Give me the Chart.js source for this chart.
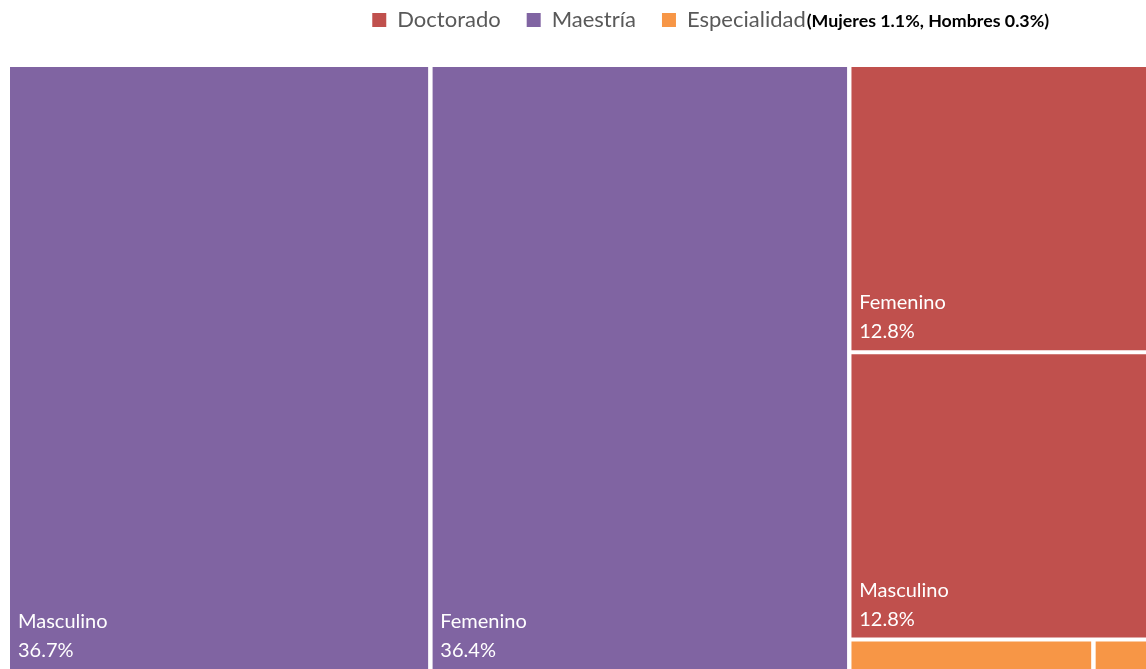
<!DOCTYPE html>
<html lang="es">
<head>
<meta charset="utf-8">
<title>Posgrado por nivel y sexo</title>
<script src="https://cdn.jsdelivr.net/npm/chart.js@4.4.1/dist/chart.umd.min.js"></script>
<style>
  html, body { margin: 0; padding: 0; overflow: hidden; background: #fff; }
  #wrap { width: 1168px; height: 671px; }
</style>
</head>
<body>
<div id="wrap"><canvas id="treemap"></canvas></div>
<script>
// Niveles en el orden de la leyenda y sus colores
let niveles = ['Doctorado', 'Maestría', 'Especialidad'];
let coloresNivel = ['#C0504D', '#8064A2', '#F79646'];

// Celdas del treemap: nivel, sexo y porcentaje
let celdaNivel = ['Maestría', 'Maestría', 'Doctorado', 'Doctorado', 'Especialidad', 'Especialidad'];
let celdaSexo = ['Masculino', 'Femenino', 'Femenino', 'Masculino', 'Mujeres', 'Hombres'];
let celdaValor = [36.7, 36.4, 12.8, 12.8, 1.1, 0.3];

// Nota que va pegada a la leyenda
let notaEspecialidad = '(Mujeres 1.1%, Hombres 0.3%)';

// Tamaño del rectángulo completo (unidades de los ejes) y hueco entre celdas
let anchoTotal = 1152, altoTotal = 606, hueco = 2;

// Peor relación de aspecto de una fila (algoritmo squarify)
function peorAspecto(fila, lado) {
  let suma = fila.reduce((a, b) => a + b, 0);
  let max = Math.max(...fila), min = Math.min(...fila);
  return Math.max((lado * lado * max) / (suma * suma), (suma * suma) / (lado * lado * min));
}

// Reparte valores dentro de un rectángulo
function squarify(valores, rect) {
  let total = valores.reduce((a, b) => a + b, 0);
  let areas = valores.map(v => v * rect.w * rect.h / total);
  let { x, y, w, h } = rect;
  let salida = [];
  let i = 0;
  while (i < areas.length) {
    let lado = Math.min(w, h);
    let fila = [areas[i]];
    let j = i + 1;
    while (j < areas.length && peorAspecto(fila.concat(areas[j]), lado) <= peorAspecto(fila, lado)) {
      fila.push(areas[j]);
      j++;
    }
    let grosor = fila.reduce((a, b) => a + b, 0) / lado;
    let desp = 0;
    fila.forEach(a => {
      let largo = a / grosor;
      if (w >= h) salida.push({ x: x, y: y + desp, w: grosor, h: largo });
      else salida.push({ x: x + desp, y: y, w: largo, h: grosor });
      desp += largo;
    });
    if (w >= h) { x += grosor; w -= grosor; } else { y += grosor; h -= grosor; }
    i = j;
  }
  return salida;
}

// Primero los niveles (de mayor a menor), luego las celdas dentro de cada nivel
let totales = niveles.map(n => celdaValor.reduce((s, v, k) => s + (celdaNivel[k] === n ? v : 0), 0));
let ordenNiveles = niveles.map((n, k) => k).sort((a, b) => totales[b] - totales[a]);
let rectNiveles = squarify(ordenNiveles.map(k => totales[k]), { x: 0, y: 0, w: anchoTotal, h: altoTotal });

let celdas = [];
ordenNiveles.forEach((k, pos) => {
  let indices = celdaNivel.map((n, c) => c).filter(c => celdaNivel[c] === niveles[k]);
  let rects = squarify(indices.map(c => celdaValor[c]), rectNiveles[pos]);
  indices.forEach((c, r) => {
    celdas.push({ ...rects[r], sexo: celdaSexo[c], valor: celdaValor[c], color: coloresNivel[k] });
  });
});

// Cada celda es una línea horizontal (borde superior) rellenada hasta su borde inferior
let datasets = celdas.map(c => ({
  label: c.sexo,
  data: [{ x: c.x + hueco, y: c.y + hueco }, { x: c.x + c.w - hueco, y: c.y + hueco }],
  fill: { value: c.y + c.h - hueco },
  backgroundColor: c.color,
  borderWidth: 0,
  pointRadius: 0,
  pointHoverRadius: 0,
  tension: 0
}));

// Más espacio entre la leyenda y el treemap, y leyenda un poco a la derecha
let ajusteLeyenda = {
  id: 'ajusteLeyenda',
  afterInit(chart) {
    let fitOriginal = chart.legend.fit;
    chart.legend.fit = function () {
      fitOriginal.call(this);
      this.height += 24;
    };
  },
  afterLayout(chart) {
    chart.legend.left += 5;
    chart.legend.right += 5;
  }
};

// Textos dentro de las celdas y la nota de la leyenda
let etiquetas = {
  id: 'etiquetas',
  afterDatasetsDraw(chart) {
    let { ctx, scales: { x, y } } = chart;
    ctx.save();
    ctx.font = '20px Lato';
    ctx.fillStyle = '#ffffff';
    ctx.textBaseline = 'alphabetic';
    celdas.forEach(c => {
      let izq = x.getPixelForValue(c.x + hueco);
      let arriba = y.getPixelForValue(c.y + hueco);
      let abajo = y.getPixelForValue(c.y + c.h - hueco);
      if (abajo - arriba < 60) return;
      ctx.fillText(c.sexo, izq + 8, abajo - 41);
      ctx.fillText(c.valor.toFixed(1) + '%', izq + 8, abajo - 12);
    });
    let hb = chart.legend.legendHitBoxes[niveles.length - 1];
    ctx.font = 'bold 17.8px Lato';
    ctx.fillStyle = '#000000';
    ctx.textBaseline = 'middle';
    ctx.fillText(notaEspecialidad, hb.left + hb.width + 1, hb.top + hb.height / 2 + 1);
    ctx.restore();
  }
};

let config = {
  type: 'line',
  data: { datasets: datasets },
  options: {
    responsive: true,
    maintainAspectRatio: false,
    animation: false,
    events: [],
    layout: { padding: { top: -17, left: 8, right: 8, bottom: 0 } },
    scales: {
      x: { type: 'linear', min: 0, max: anchoTotal, display: false },
      y: { type: 'linear', min: 0, max: altoTotal, reverse: true, display: false }
    },
    plugins: {
      tooltip: { enabled: false },
      legend: {
        position: 'top',
        align: 'center',
        onClick: () => {},
        labels: {
          boxWidth: 14,
          boxHeight: 14,
          padding: 26,
          color: '#595959',
          font: { family: 'Lato', size: 22 },
          generateLabels: () => niveles.map((n, k) => ({
            text: n,
            fillStyle: coloresNivel[k],
            strokeStyle: coloresNivel[k],
            lineWidth: 0,
            fontColor: '#595959',
            hidden: false
          }))
        }
      }
    }
  },
  plugins: [ajusteLeyenda, etiquetas]
};

let ctx = document.getElementById('treemap').getContext('2d');
let treemap = new Chart(ctx, config);
</script>
</body>
</html>
